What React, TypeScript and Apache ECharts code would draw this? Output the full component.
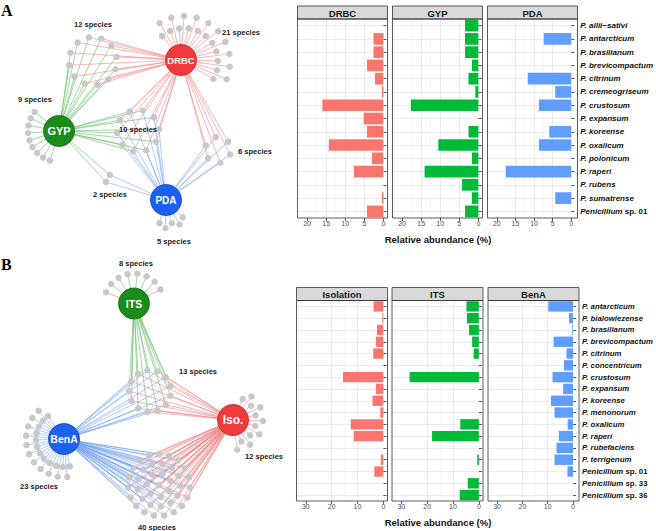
import React, { useEffect, useRef } from 'react';
import * as echarts from 'echarts';

const FONT = '"Liberation Sans", Arial, Helvetica, sans-serif';
const SERIF = '"Liberation Serif", "Times New Roman", serif';

// ---------- bar chart data ----------
const topSpecies = ['P. allii\u2212sativi', 'P. antarcticum', 'P. brasilianum', 'P. brevicompactum', 'P. citrinum', 'P. cremeogriseum', 'P. crustosum', 'P. expansum', 'P. koreense', 'P. oxalicum', 'P. polonicum', 'P. raperi', 'P. rubens', 'P. sumatrense', 'Penicillium sp. 01'];
const topMedia = ['DRBC', 'GYP', 'PDA'];
const drbcValues = [null, 2.6, 2.6, 4.3, 2.2, 0.4, 16.0, 5.2, 4.3, 14.3, 3.0, 7.7, null, 0.4, 4.3];
const gypValues = [3.5, 3.5, 3.5, 1.7, 2.6, 0.8, 17.7, null, 2.6, 10.5, 1.7, 14.1, 4.3, 1.7, 3.5];
const pdaValues = [null, 7.4, null, null, 11.7, 4.3, 8.7, null, 5.9, 8.7, null, 17.6, null, 4.3, null];

const bottomSpecies = ['P. antarcticum', 'P. bialowiezense', 'P. brasilianum', 'P. brevicompactum', 'P. citrinum', 'P. concentricum', 'P. crustosum', 'P. expansum', 'P. koreense', 'P. menonorum', 'P. oxalicum', 'P. raperi', 'P. rubefaciens', 'P. terrigenum', 'Penicillium sp. 01', 'Penicillium sp. 33', 'Penicillium sp. 36'];
const bottomMethods = ['Isolation', 'ITS', 'BenA'];
const isolationValues = [3.8, 0.4, 2.5, 2.9, 3.9, null, 15.6, 2.9, 4.2, 1.2, 12.6, 11.5, null, 1.0, 3.5, null, null];
const itsValues = [4.8, 4.6, 3.8, 2.6, 2.0, null, 26.8, null, null, null, 7.2, 18.1, null, 0.6, null, 4.3, 7.4];
const benAValues = [9.8, 1.6, 0.3, 7.7, 2.6, 3.6, 8.1, 3.9, 8.7, 7.3, 2.1, 5.6, 6.5, 7.3, 2.2, null, null];

const topTicks = [0, 5, 10, 15, 20];
const topMinorTicks = [2.5, 7.5, 12.5, 17.5, 22.5];
const bottomTicks = [0, 10, 20, 30];
const bottomMinorTicks = [5, 15, 25];
const axisTitle = 'Relative abundance (%)';

const barColors = ['#F8766D', '#00BA38', '#619CFF'];

// ---------- network data ----------
const hubsA = ['DRBC', 'GYP', 'PDA'];
const groupHubsA = [[0], [1, 0], [1], [1, 0, 2], [0, 2], [1, 2], [2]];
const groupCountsA = [21, 12, 9, 10, 6, 2, 5];

const hubsB = ['ITS', 'Iso.', 'BenA'];
const groupHubsB = [[0], [0, 1, 2], [1], [2], [1, 2]];
const groupCountsB = [8, 13, 12, 23, 40];

// ---------- layout (positions / styles) ----------
const hubFillA = ['#ef3b3b', '#1a8c1a', '#1b62f2'];
const hubBorderA = ['#b52020', '#0f5f0f', '#1040b0'];
const edgeColorA = ['#f07c7c', '#5cb85c', '#6f9ff5'];
const hubFontA = [9.5, 11, 10];
const hubPosA = [[181, 60], [59, 131], [166, 200]];
const clusterLayoutA: any[] = [
  { cx: 184, cy: 62, r: 40, rz: 6, a0: -130, a1: 30 },
  { cx: 93, cy: 61, r: 24, ring: true, a0: -130 },
  { cx: 59, cy: 131, r: 31, a0: 107, a1: 218 },
  { cx: 138, cy: 131, r: 21, ring: true, a0: -113 },
  { cx: 218, cy: 150, r: 13, ring: true, a0: -160 },
  { cx: 108, cy: 178.5, r: 4, ring: true, a0: -60 },
  { cx: 166, cy: 200, r: 26, rz: 2, a0: 106, a1: 46 },
];
const labelPosA = [[241, 32], [93, 24], [35, 99], [138, 129], [255, 151], [110, 194], [174, 241]];

const hubFillB = ['#1a8c1a', '#ef3b3b', '#1b62f2'];
const hubBorderB = ['#0f5f0f', '#b52020', '#1040b0'];
const edgeColorB = ['#5cb85c', '#f07c7c', '#6f9ff5'];
const hubFontB = [10.5, 12, 10.5];
const hubPosB = [[134, 303.5], [233, 420], [64, 439]];
const clusterLayoutB: any[] = [
  { cx: 134, cy: 303.5, r: 30, a0: -158, a1: -28 },
  { cx: 150, cy: 391, r: 21, ring: true, a0: -125 },
  { cx: 233, cy: 420, r: 26.5, rz: 3.5, a0: -65, a1: 82 },
  { cx: 64, cy: 439, r: 33, rz: 5, a0: 78, a1: 235 },
  { cx: 159, cy: 485, disk: [[31, 19], [21.5, 13], [12, 7], [0, 1]], a0: -90 },
];
const labelPosB = [[136, 263], [198, 371], [264, 456], [39, 486], [157, 527]];

function clusterPoints(l: any, n: number): number[][] {
  const pts: number[][] = [];
  const rad = (d: number) => (d * Math.PI) / 180;
  if (l.disk) {
    let remaining = n;
    l.disk.forEach(([r, cap]: number[], ri: number) => {
      const k = Math.min(cap, remaining);
      remaining -= k;
      for (let i = 0; i < k; i++) {
        const a = rad(l.a0 + (360 * i) / k + ri * 9);
        pts.push([l.cx + r * Math.cos(a), l.cy + r * Math.sin(a)]);
      }
    });
  } else if (l.ring) {
    for (let i = 0; i < n; i++) {
      const a = rad(l.a0 + (360 * i) / n);
      pts.push([l.cx + l.r * Math.cos(a), l.cy + l.r * Math.sin(a)]);
    }
  } else {
    for (let i = 0; i < n; i++) {
      const a = rad(l.a0 + ((l.a1 - l.a0) * i) / Math.max(1, n - 1));
      const rr = l.r + (l.rz ? (i % 2 ? l.rz : -l.rz) : 0);
      pts.push([l.cx + rr * Math.cos(a), l.cy + rr * Math.sin(a)]);
    }
  }
  return pts;
}

function buildNetwork(prefix: string, hubs: string[], hubPos: number[][], hubFill: string[], hubBorder: string[], edgeColor: string[], hubFont: number[], groupHubs: number[][], groupCounts: number[], layout: any[]) {
  const nodes: any[] = [];
  const links: any[] = [];
  groupCounts.forEach((count, gi) => {
    clusterPoints(layout[gi], count).forEach((pt) => {
      const name = `${prefix}n${nodes.length}`;
      nodes.push({ name, value: pt, symbolSize: 6.5, itemStyle: { color: '#c8c8c8' }, label: { show: false } });
      groupHubs[gi].forEach((h) => {
        links.push({ source: name, target: hubs[h], lineStyle: { color: edgeColor[h], width: 0.6, opacity: 0.95 } });
      });
    });
  });
  hubs.forEach((h, i) => {
    nodes.push({
      name: h,
      value: hubPos[i],
      symbolSize: 31,
      itemStyle: { color: hubFill[i], borderColor: hubBorder[i], borderWidth: 0.8 },
      label: { show: true, position: 'inside', color: '#fff', fontWeight: 'bold', fontSize: hubFont[i], fontFamily: FONT },
    });
  });
  return { nodes, links };
}

function buildOption() {
  const grids: any[] = [];
  const xAxes: any[] = [];
  const yAxes: any[] = [];
  const series: any[] = [];
  const graphic: any[] = [];

  const rows = [
    { species: topSpecies, names: topMedia, values: [drbcValues, gypValues, pdaValues], lefts: [297.5, 392.5, 487.5], width: 90, top: 19, bottom: 218, headTop: 6, range: [-1.07, 22.5], ticks: topTicks, minor: topMinorTicks, fs: 8, titleY: 239 },
    { species: bottomSpecies, names: bottomMethods, values: [isolationValues, itsValues, benAValues], lefts: [296.5, 392, 488], width: 91, top: 300.5, bottom: 501, headTop: 287.5, range: [-1.6, 33.6], ticks: bottomTicks, minor: bottomMinorTicks, fs: 7.8, titleY: 522 },
  ];

  rows.forEach((row, r) => {
    row.names.forEach((nm, p) => {
      const g = r * 3 + p;
      const left = row.lefts[p];
      grids.push({ left, top: row.top, width: row.width, height: row.bottom - row.top, show: false });
      xAxes.push({
        type: 'value', gridIndex: g, inverse: true, min: row.range[0], max: row.range[1], position: 'bottom',
        axisLine: { show: false },
        axisTick: { show: true, length: 3, lineStyle: { color: '#333', width: 0.8 }, customValues: row.ticks },
        axisLabel: { show: true, customValues: row.ticks, color: '#4d4d4d', fontSize: 7, fontFamily: FONT, margin: 2 },
        splitLine: { show: true, showMinLine: false, showMaxLine: false, lineStyle: { color: '#e6e6e6', width: 0.8 } },
      });
      xAxes.push({
        type: 'value', gridIndex: g, inverse: true, min: row.range[0], max: row.range[1], position: 'top',
        axisLine: { show: false },
        axisTick: { show: false, customValues: row.minor },
        axisLabel: { show: false, customValues: row.minor },
        splitLine: { show: true, showMinLine: false, showMaxLine: false, lineStyle: { color: '#f0f0f0', width: 0.6 } },
      });
      const isLast = p === 2;
      yAxes.push({
        type: 'category', gridIndex: g, data: row.species, inverse: true, position: 'right',
        axisLine: { show: false },
        axisTick: { show: true, length: 3, alignWithLabel: true, lineStyle: { color: '#333', width: 0.8 } },
        splitLine: { show: true, alignWithLabel: true, lineStyle: { color: '#e6e6e6', width: 0.8 } },
        axisLabel: {
          show: isLast, margin: 5, interval: 0,
          formatter: (v: string) => (v.startsWith('Penicillium') ? `{i|Penicillium}{n|${v.slice(11)}}` : `{i|${v}}`),
          rich: {
            i: { fontStyle: 'italic', fontWeight: 'bold', fontSize: row.fs, color: '#111', fontFamily: FONT },
            n: { fontWeight: 'bold', fontSize: row.fs, color: '#111', fontFamily: FONT },
          },
        },
      });
      series.push({
        type: 'bar', xAxisIndex: g * 2, yAxisIndex: g, data: row.values[p], barWidth: '88%',
        itemStyle: { color: barColors[p] }, silent: true,
      });
      // strip header
      graphic.push({
        type: 'rect', z: 10, silent: true,
        shape: { x: left, y: row.headTop, width: row.width, height: row.top - row.headTop },
        style: { fill: '#d9d9d9', stroke: '#333', lineWidth: 0.8 },
      });
      graphic.push({
        type: 'text', z: 11, silent: true, x: left + row.width / 2, y: (row.headTop + row.top) / 2 + 0.5,
        style: { text: nm, fill: '#1a1a1a', fontSize: 9.5, fontWeight: 'bold', fontFamily: FONT, textAlign: 'center', textVerticalAlign: 'middle', align: 'center', verticalAlign: 'middle' },
      });
      // panel border
      graphic.push({
        type: 'rect', z: 10, silent: true,
        shape: { x: left, y: row.top, width: row.width, height: row.bottom - row.top },
        style: { fill: 'none', stroke: '#333', lineWidth: 0.8 },
      });
    });
    graphic.push({
      type: 'text', z: 11, silent: true, x: 438, y: row.titleY,
      style: { text: axisTitle, fill: '#111', fontSize: 9.5, fontWeight: 'bold', fontFamily: FONT, textAlign: 'center', textVerticalAlign: 'middle', align: 'center', verticalAlign: 'middle' },
    });
  });

  // network coordinate system (pixel space)
  grids.push({ left: 0, top: 0, width: 656, height: 531, show: false });
  xAxes.push({ type: 'value', gridIndex: 6, min: 0, max: 656, show: false });
  yAxes.push({ type: 'value', gridIndex: 6, min: 0, max: 531, inverse: true, show: false });

  const netA = buildNetwork('a', hubsA, hubPosA, hubFillA, hubBorderA, edgeColorA, hubFontA, groupHubsA, groupCountsA, clusterLayoutA);
  const netB = buildNetwork('b', hubsB, hubPosB, hubFillB, hubBorderB, edgeColorB, hubFontB, groupHubsB, groupCountsB, clusterLayoutB);
  [netA, netB].forEach((net) => {
    series.push({
      type: 'graph', coordinateSystem: 'cartesian2d', xAxisIndex: 12, yAxisIndex: 6, layout: 'none',
      data: net.nodes, links: net.links, symbol: 'circle', silent: true,
      label: { show: false }, lineStyle: { width: 0.6, opacity: 0.95 },
      emphasis: { disabled: true }, z: 3,
    });
  });

  const speciesLabel = (pos: number[], n: number) => ({
    type: 'text', z: 11, silent: true, x: pos[0], y: pos[1],
    style: { text: `${n} species`, fill: '#222', fontSize: 7.5, fontWeight: 'bold', fontFamily: FONT, textAlign: 'center', textVerticalAlign: 'middle', align: 'center', verticalAlign: 'middle' },
  });
  groupCountsA.forEach((n, i) => graphic.push(speciesLabel(labelPosA[i], n)));
  groupCountsB.forEach((n, i) => graphic.push(speciesLabel(labelPosB[i], n)));

  graphic.push({ type: 'text', z: 11, silent: true, x: 1, y: 2, style: { text: 'A', fill: '#000', fontSize: 16, fontWeight: 'bold', fontFamily: SERIF } });
  graphic.push({ type: 'text', z: 11, silent: true, x: 1, y: 256, style: { text: 'B', fill: '#000', fontSize: 16, fontWeight: 'bold', fontFamily: SERIF } });

  return {
    animation: false,
    backgroundColor: '#fff',
    grid: grids,
    xAxis: xAxes,
    yAxis: yAxes,
    series,
    graphic,
  };
}

export default function App() {
  const ref = useRef<HTMLDivElement>(null);
  useEffect(() => {
    document.body.style.margin = '0';
    const chart = echarts.init(ref.current as HTMLDivElement, null, { renderer: 'svg' });
    chart.setOption(buildOption() as any);
    return () => chart.dispose();
  }, []);
  return <div ref={ref} style={{ width: 656, height: 531 }} />;
}
